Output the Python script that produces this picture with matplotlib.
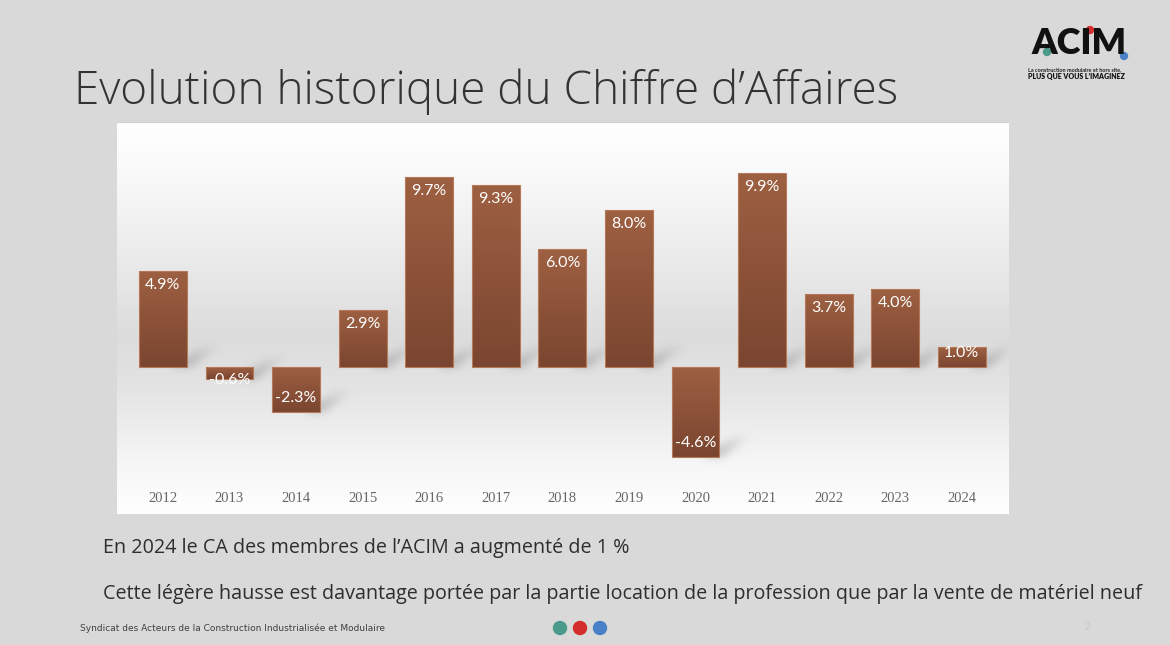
import numpy as np
import matplotlib
matplotlib.use("Agg")
import matplotlib.pyplot as plt
from matplotlib.patches import Rectangle, Circle
from matplotlib.colors import LinearSegmentedColormap

years = ["2012", "2013", "2014", "2015", "2016", "2017", "2018", "2019", "2020", "2021", "2022", "2023", "2024"]
growth = [4.9, -0.6, -2.3, 2.9, 9.7, 9.3, 6.0, 8.0, -4.6, 9.9, 3.7, 4.0, 1.0]

title = "Evolution historique du Chiffre d\u2019Affaires"
line1 = "En 2024 le CA des membres de l\u2019ACIM a augment\u00e9 de 1 %"
line2 = "Cette l\u00e9g\u00e8re hausse est davantage port\u00e9e par la partie location de la profession que par la vente de mat\u00e9riel neuf"
footer = "Syndicat des Acteurs de la Construction Industrialis\u00e9e et Modulaire"

W, H = 1170, 645
fig = plt.figure(figsize=(W / 100, H / 100), dpi=100)
fig.patch.set_facecolor("#D9D9D9")

def fx(px):
    return px / W

def fy(py):
    return 1 - py / H

# chart panel
L, T, R, B = 117, 122, 1009, 514
ax = fig.add_axes([fx(L), fy(B), (R - L) / W, (B - T) / H])
xmin, xmax = -0.69, 12.71
ymin, ymax = -7.5, 12.5
ax.set_xlim(xmin, xmax)
ax.set_ylim(ymin, ymax)
ax.axis("off")

# background gradient
bg = LinearSegmentedColormap.from_list(
    "bg", [(0, "#FFFFFF"), (0.12, "#F7F7F7"), (0.32, "#E4E4E4"), (0.45, "#DCDCDC"),
           (0.7, "#EEEEEE"), (0.9, "#FBFBFB"), (1, "#FFFFFF")])
grad = np.linspace(0, 1, 256).reshape(-1, 1)
ax.imshow(grad, extent=[xmin, xmax, ymin, ymax], origin="lower", aspect="auto",
          cmap=bg, zorder=0)
ax.axhline(ymax, color="#CFCFCF", lw=1.5, zorder=1)

# shadows (blurred parallelograms)
nx, ny = R - L, B - T
gx = np.linspace(xmin, xmax, nx)
gy = np.linspace(ymin, ymax, ny)
X, Y = np.meshgrid(gx, gy)
mask = np.zeros_like(X)
bw = 0.72
for i, v in enumerate(growth):
    xr = i + bw / 2
    yb = min(0, v)
    hs = 1.1
    t = (Y - yb) / hs
    inside = (t >= 0) & (t <= 1)
    xl = xr - 0.25 + t * 0.45
    xh = xr + 0.05 + t * 0.45
    sel = inside & (X >= xl) & (X <= xh)
    mask[sel] += (1 - t[sel]) * 0.9 + 0.1

def blur(a, s):
    k = np.arange(-3 * s, 3 * s + 1)
    g = np.exp(-k ** 2 / (2 * s * s))
    g /= g.sum()
    a = np.apply_along_axis(lambda r: np.convolve(r, g, mode="same"), 1, a)
    a = np.apply_along_axis(lambda c: np.convolve(c, g, mode="same"), 0, a)
    return a

mask = np.clip(blur(mask, 4), 0, 1)
rgba = np.zeros((ny, nx, 4))
rgba[..., :3] = 0.45
rgba[..., 3] = mask * 0.45
ax.imshow(rgba, extent=[xmin, xmax, ymin, ymax], origin="lower", aspect="auto", zorder=1)

# bars with gradient
barcm = LinearSegmentedColormap.from_list("bar", ["#7A4530", "#9E6042"])
bars = ax.bar(range(len(growth)), growth, width=bw, color="none",
              edgecolor="#B57858", linewidth=0.8, zorder=3)
for i, (b, v) in enumerate(zip(bars, growth)):
    x0 = b.get_x()
    top, bot = max(0, v), min(0, v)
    im = ax.imshow(grad, extent=[x0, x0 + bw, bot, top], origin="lower", aspect="auto",
                   cmap=barcm, zorder=2)
    im.set_clip_path(b)

# value labels
ppu = (B - T) / (ymax - ymin)  # pixels per unit
for i, v in enumerate(growth):
    hpx = abs(v) * ppu
    if hpx > 35:
        off = 14 / ppu
        y = v - off if v > 0 else v + off
    elif v > 0:
        y = v - 6 / ppu
    else:
        y = v - 1 / ppu
    ax.text(i, y, f"{v:.1f}%", color="white", fontsize=11.5, ha="center", va="center",
            family="Lato", zorder=4)

# year labels
for i, yr in enumerate(years):
    ax.text(i, (367 - 499) / ppu, yr, color="#666666", fontsize=10.5, ha="center",
            va="center", family="Liberation Serif", zorder=4)

# title and texts
fig.text(fx(74), fy(92), title, fontsize=33, color="#333333", family="Open Sans",
         fontweight="light", ha="left", va="center")
fig.text(fx(103), fy(548), line1, fontsize=14.2, color="#2E2E2E", family="Open Sans",
         ha="left", va="center")
fig.text(fx(103), fy(594), line2, fontsize=14.2, color="#2E2E2E", family="Open Sans",
         ha="left", va="center")
fig.text(fx(80), fy(628), footer, fontsize=6.5, color="#404040", family="Liberation Sans Narrow",
         ha="left", va="center")
fig.text(fx(1087), fy(627), "2", fontsize=8, color="#C8C8C8", ha="center", va="center")

# footer dots
ov = fig.add_axes([0, 0, 1, 1], facecolor="none")
ov.set_xlim(0, W)
ov.set_ylim(H, 0)
ov.axis("off")
for cx, c in zip([560, 580, 600], ["#4A9B8B", "#D42E2E", "#4A80C6"]):
    ov.add_patch(Circle((cx, 628), 6.5, color=c))

# logo
ov.text(1079, 44, "ACIM", fontsize=26, fontweight="heavy", family="Lato", color="#111111",
        ha="center", va="center")
ov.add_patch(Circle((1047, 52), 3.5, color="#4A9B8B"))
ov.add_patch(Circle((1090, 30), 3.5, color="#D42E2E"))
ov.add_patch(Circle((1124, 56), 3.5, color="#4A80C6"))
ov.text(1028, 70, "La construction modulaire et hors site,", fontsize=4, fontweight="bold",
        family="Lato", color="#222222", ha="left", va="center")
ov.text(1028, 76, "PLUS QUE VOUS L\u2019IMAGINEZ", fontsize=5, fontweight="heavy",
        family="Lato", color="#111111", ha="left", va="center")

fig.savefig("out.png", dpi=100, facecolor=fig.get_facecolor())
